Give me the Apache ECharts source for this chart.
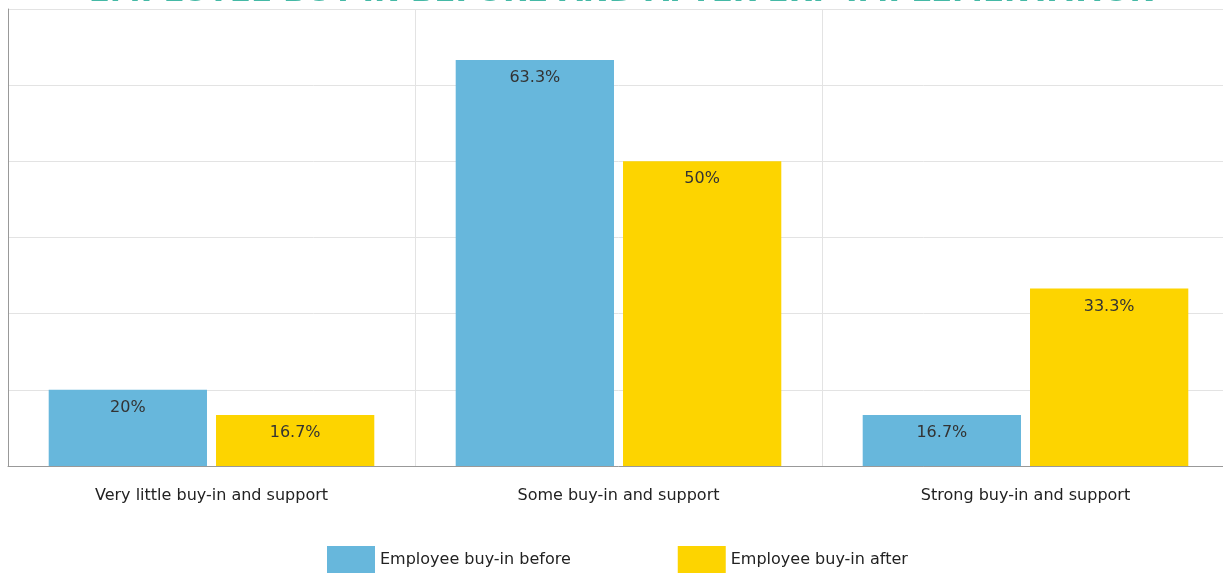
<!DOCTYPE html>
<html><head><meta charset="utf-8">
<script src="https://cdn.jsdelivr.net/npm/echarts@6/dist/echarts.min.js"></script>
<style>html,body{margin:0;padding:0;background:#fff;overflow:hidden}#c{width:1229px;height:573px}</style>
</head><body><div id="c"></div>
<script>
var titleText = 'EMPLOYEE BUY-IN BEFORE AND AFTER ERP IMPLEMENTATION';
var categories = ['Very little buy-in and support', 'Some buy-in and support', 'Strong buy-in and support'];
var seriesNames = ['Employee buy-in before', 'Employee buy-in after'];
var beforeValues = [20, 63.3, 16.7];
var afterValues = [16.7, 50, 33.3];
var FONT = 'DejaVu Sans';
var chart = echarts.init(document.getElementById('c'));
chart.setOption({
  animation: false,
  title: {
    text: titleText, left: 617, textAlign: 'center', top: -28,
    textStyle: {fontFamily: FONT, fontSize: 31, fontWeight: 'bold', color: '#45b9a6'}
  },
  grid: {left: 8, right: 0, top: 9, bottom: 107, containLabel: false},
  legend: {
    top: 546, left: 327, padding: 0, itemWidth: 48, itemHeight: 28, itemGap: 107,
    icon: 'rect',
    textStyle: {fontFamily: FONT, fontSize: 16, color: '#222'}
  },
  xAxis: {
    type: 'category', data: categories,
    axisLine: {lineStyle: {color: '#999'}},
    axisTick: {alignWithLabel: true, length: 6, lineStyle: {color: '#999'}},
    axisLabel: {fontFamily: FONT, fontSize: 16, color: '#222', margin: 22},
    splitLine: {show: true, lineStyle: {color: '#e3e3e3'}}
  },
  yAxis: {
    type: 'value', min: 10, max: 70, interval: 10,
    axisLabel: {show: false},
    axisLine: {show: true, lineStyle: {color: '#999'}},
    axisTick: {show: false},
    splitLine: {lineStyle: {color: '#e3e3e3'}}
  },
  series: [
    {name: seriesNames[0], type: 'bar', data: beforeValues, barGap: '5.7%', barCategoryGap: '20%',
     itemStyle: {color: '#67b7dc'},
     label: {show: true, position: 'insideTop', distance: 10, formatter: '{c}%', fontFamily: FONT, fontSize: 16, color: '#333'}},
    {name: seriesNames[1], type: 'bar', data: afterValues,
     itemStyle: {color: '#fdd400'},
     label: {show: true, position: 'insideTop', distance: 10, formatter: '{c}%', fontFamily: FONT, fontSize: 16, color: '#333'}}
  ]
});
</script></body></html>
